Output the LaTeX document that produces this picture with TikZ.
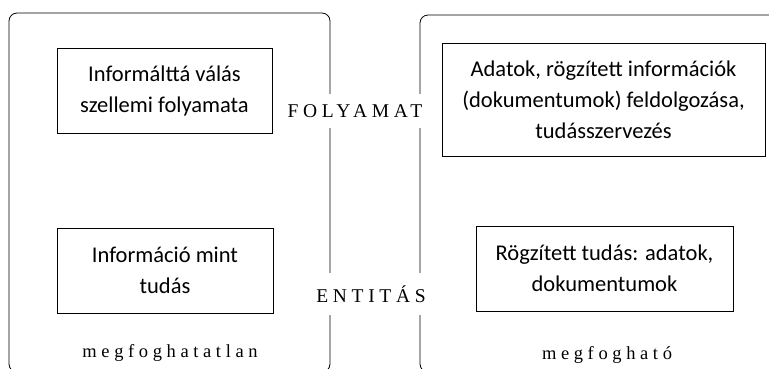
\documentclass[tikz,border=0pt]{standalone}
\usepackage{fontspec}
\setmainfont{Liberation Serif}
\newfontfamily\boxfont{Carlito}
\usepackage{tikz}

\begin{document}
\begin{tikzpicture}[x=1pt,y=-1pt,line width=0.8pt,
    box/.style={draw,align=center,font=\boxfont\fontsize{22.5}{31}\selectfont},
    side/.style={fill=white,inner xsep=1pt,font=\fontsize{19.5}{21}\selectfont\addfontfeature{LetterSpace=24}},
    under/.style={font=\fontsize{18.5}{20}\selectfont\addfontfeature{LetterSpace=25}}]
    \useasboundingbox (0,0) rectangle (769,368);
    \clip (0,0) rectangle (769,368);
    \draw[rounded corners=8pt] (9,13) rectangle (330,372);
    \draw[rounded corners=8pt] (420,15) rectangle (790,372);
    \node[box,minimum width=215pt,minimum height=85pt] (thought) at (164.5,90.5) {Informálttá válás\\szellemi folyamata};
    \node[box,minimum width=216pt,minimum height=85pt] (knowledge) at (165,270.5) {Információ mint\\tudás};
    \node[box,minimum width=323pt,minimum height=113pt] (processing) at (603.5,99.5) {Adatok, rögzített információk\\(dokumentumok) feldolgozása,\\tudásszervezés};
    \node[box,minimum width=257pt,minimum height=85pt] (recorded) at (604.5,268.5) {Rögzített tudás: adatok,\\dokumentumok};
    \node[side,inner ysep=10pt] (process) at (355,111) {FOLYAMAT};
    \node[side,inner ysep=13pt] (entity) at (371,294) {ENTITÁS};
    \node[under] (intangible) at (170,353) {megfoghatatlan};
    \node[under] (tangible) at (607,355) {megfogható};
\end{tikzpicture}
\end{document}
